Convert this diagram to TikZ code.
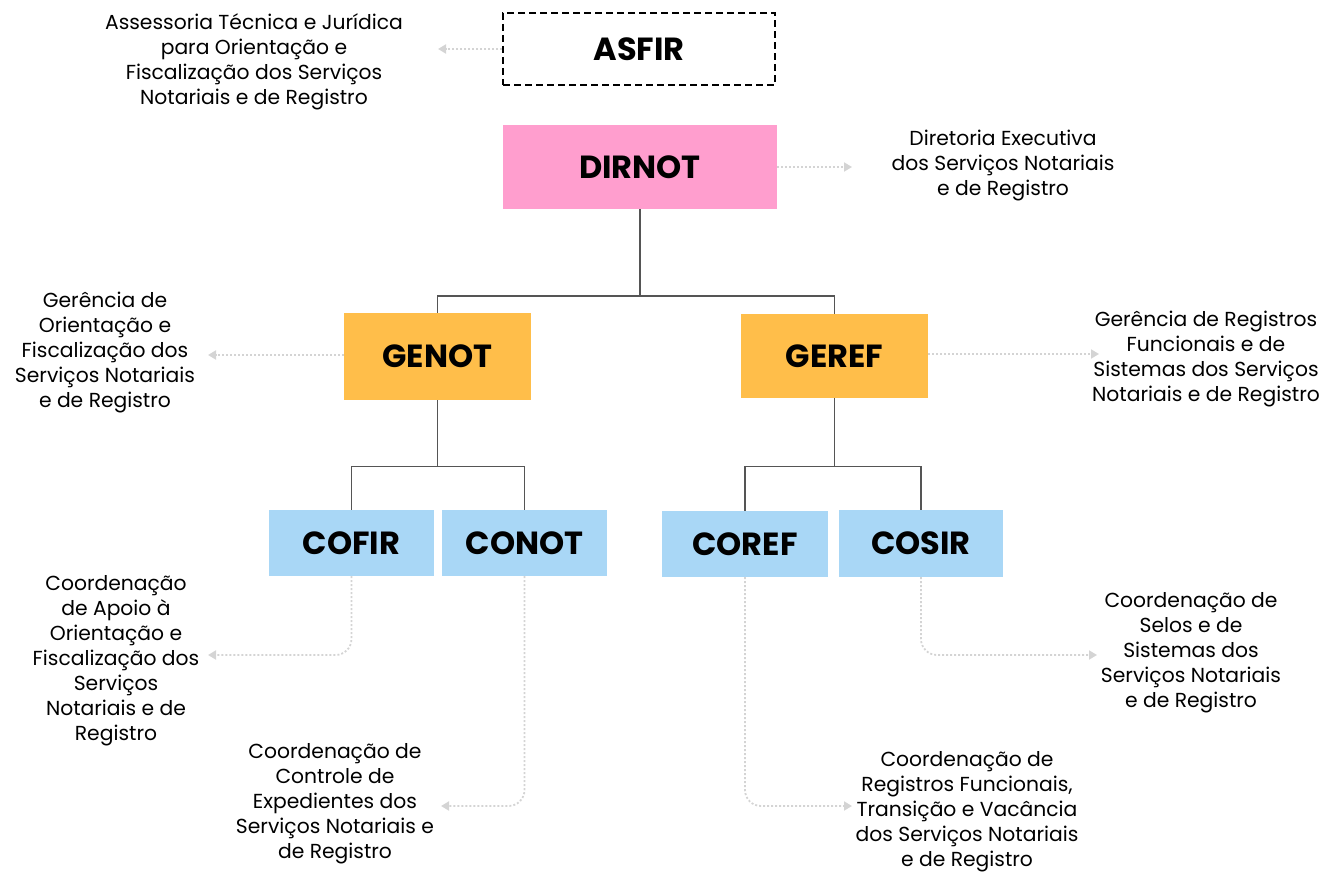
\documentclass[tikz,border=0pt]{standalone}
\usepackage{fontspec}
\setmainfont{Poppins}
\usetikzlibrary{arrows.meta}
\definecolor{pinkc}{HTML}{FF9ECE}
\definecolor{orangec}{HTML}{FFBE4A}
\definecolor{bluec}{HTML}{A9D7F6}
\definecolor{treec}{HTML}{555555}
\definecolor{dotc}{HTML}{D4D4D4}
\begin{document}
\begin{tikzpicture}[x=1pt,y=-1pt,
  box/.style={inner sep=0pt, font=\fontsize{32}{34}\selectfont\bfseries},
  desc/.style={inner sep=0pt, align=center, font=\fontsize{20.3}{25}\selectfont},
  tree/.style={draw=treec, line width=1.4pt},
  dotarrow/.style={draw=dotc, line width=1.8pt, dash pattern=on 2pt off 2pt, rounded corners=16pt,
    -{Triangle[length=8pt,width=9pt]}}
]
\useasboundingbox (0,0) rectangle (1343,874);

% boxes
\node[box, draw=black, line width=1.6pt, dash pattern=on 7pt off 4pt, minimum width=272pt, minimum height=72pt] (asfir) at (639,49) {ASFIR};
\node[box, fill=pinkc, minimum width=274pt, minimum height=84pt] (dirnot) at (640,167) {DIRNOT};
\node[box, fill=orangec, minimum width=187pt, minimum height=87pt] (genot) at (437.5,356.5) {GENOT};
\node[box, fill=orangec, minimum width=187pt, minimum height=84pt] (geref) at (834.5,356) {GEREF};
\node[box, fill=bluec, minimum width=165pt, minimum height=66pt] (cofir) at (351.5,543) {COFIR};
\node[box, fill=bluec, minimum width=165pt, minimum height=66pt] (conot) at (524.5,543) {CONOT};
\node[box, fill=bluec, minimum width=166pt, minimum height=66pt] (coref) at (745,544) {COREF};
\node[box, fill=bluec, minimum width=164pt, minimum height=67pt] (cosir) at (921,543.5) {COSIR};

% tree connectors
\draw[tree] (dirnot.south) -- ++(0,87) -| (genot.north);
\draw[tree] (dirnot.south) -- ++(0,87) -| (geref.north);
\draw[tree] (genot.south) -- ++(0,66) -| (cofir.north);
\draw[tree] (genot.south) -- ++(0,66) -| (conot.north);
\draw[tree] (geref.south) -- ++(0,68) -| (coref.north);
\draw[tree] (geref.south) -- ++(0,68) -| (cosir.north);

% descriptions
\node[desc] (asfird) at (254,62) {Assessoria Técnica e Jurídica\\para Orientação e\\Fiscalização dos Serviços\\Notariais e de Registro};
\node[desc] (dirnotd) at (1003,166) {Diretoria Executiva\\dos Serviços Notariais\\e de Registro};
\node[desc] (genotd) at (105,353) {Gerência de\\Orientação e\\Fiscalização dos\\Serviços Notariais\\e de Registro};
\node[desc] (gerefd) at (1206,359) {Gerência de Registros\\Funcionais e de\\Sistemas dos Serviços\\Notariais e de Registro};
\node[desc] (cofird) at (116,661) {Coordenação\\de Apoio à\\Orientação e\\Fiscalização dos\\Serviços\\Notariais e de\\Registro};
\node[desc] (conotd) at (335,804) {Coordenação de\\Controle de\\Expedientes dos\\Serviços Notariais e\\de Registro};
\node[desc] (corefd) at (967,812) {Coordenação de\\Registros Funcionais,\\Transição e Vacância\\dos Serviços Notariais\\e de Registro};
\node[desc] (cosird) at (1191,653) {Coordenação de\\Selos e de\\Sistemas dos\\Serviços Notariais\\e de Registro};

% arrow end points
\coordinate (asfirt) at (438,49);
\coordinate (dirnott) at (852,167);
\coordinate (genott) at (208,355);
\coordinate (gereft) at (1099,354);
\coordinate (cofirt) at (208,655);
\coordinate (conott) at (441,806);
\coordinate (coreft) at (852,806);
\coordinate (cosirt) at (1097,655);

% dotted arrows
\draw[dotarrow] (asfir.west) -- (asfirt);
\draw[dotarrow] (dirnot.east) -- (dirnott);
\draw[dotarrow] (genot.west |- genott) -- (genott);
\draw[dotarrow] (geref.east |- gereft) -- (gereft);
\draw[dotarrow] (cofir.south) |- (cofirt);
\draw[dotarrow] (conot.south) |- (conott);
\draw[dotarrow] (coref.south) |- (coreft);
\draw[dotarrow] (cosir.south) |- (cosirt);
\end{tikzpicture}
\end{document}
